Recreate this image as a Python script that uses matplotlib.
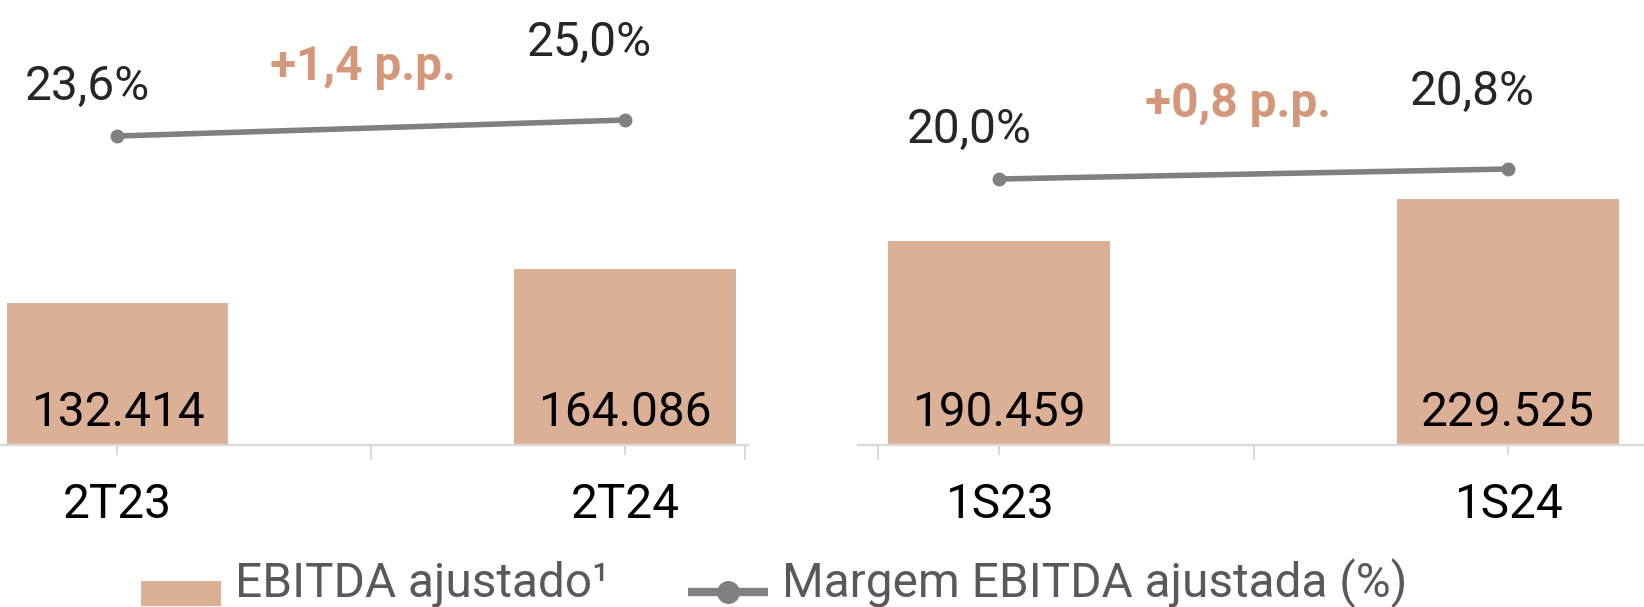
import numpy as np
import matplotlib
matplotlib.use("Agg")
import matplotlib.pyplot as plt
from matplotlib.patches import Rectangle
from matplotlib.lines import Line2D

plt.rcParams['font.family'] = ['Roboto', 'DejaVu Sans']

# ---------------- data ----------------
periods_q = ['2T23', '2T24']
ebitda_q = [132414, 164086]
margin_q = [23.6, 25.0]

periods_s = ['1S23', '1S24']
ebitda_s = [190459, 229525]
margin_s = [20.0, 20.8]

delta_labels = ['+1,4 p.p.', '+0,8 p.p.']
legend_labels = ['EBITDA ajustado¹', 'Margem EBITDA ajustada (%)']

# ---------------- style ----------------
BAR = '#dcb097'
LINE = '#808080'
ACCENT = '#d4977a'
GRID = '#d9d9d9'
FS = 34.4

W, H = 1644, 607
fig = plt.figure(figsize=(W / 100, H / 100), dpi=100)

BASE = 444.5  # axis line, px from top

panels = [
    dict(cats=periods_q, bars=ebitda_q, margin=margin_q, delta=delta_labels[0],
         px=(0, 748), xlim=(-0.2315, 1.2424), minor=[0.5, 1.2365],
         ylim2=(-3.39, 35.50), dpos=(0.485, 0.820)),
    dict(cats=periods_s, bars=ebitda_s, margin=margin_s, delta=delta_labels[1],
         px=(858, 1644), xlim=(-0.277, 1.267), minor=[-0.2377, 0.501],
         ylim2=(-1.24, 34.32), dpos=(0.4835, 0.737)),
]

pct_offsets = [(-21.6, 25.9), (-25.9, 46.4)]

for p in panels:
    x0, x1 = p['px']
    ax = fig.add_axes([x0 / W, 1 - BASE / H, (x1 - x0) / W, BASE / H])
    x = np.arange(len(p['cats']))
    ax.bar(x, p['bars'], width=0.436, color=BAR, zorder=2)
    ax.set_xlim(*p['xlim'])
    ax.set_ylim(0, 415800)
    for s in ['top', 'right', 'left']:
        ax.spines[s].set_visible(False)
    ax.spines['bottom'].set_color(GRID)
    ax.spines['bottom'].set_linewidth(1.7)
    ax.set_yticks([])
    ax.set_xticks(x, p['cats'])
    ax.set_xticks(p['minor'], minor=True)
    ax.tick_params(axis='x', which='major', length=7.2, width=1.4, color=GRID,
                   pad=45.7, labelsize=FS, labelcolor='black')
    ax.tick_params(axis='x', which='minor', length=10.5, width=1.4, color=GRID)
    for lbl in ax.get_xticklabels():
        lbl.set_va('baseline')
    for xi, v in zip(x, p['bars']):
        ax.annotate(f'{v:,}'.replace(',', '.'), xy=(xi, 0), xytext=(0, 13.3),
                    textcoords='offset points', ha='center', va='baseline',
                    fontsize=FS, color='black', zorder=3)

    ax2 = ax.twinx()
    ax2.plot(x, p['margin'], color=LINE, lw=4.0, marker='o', ms=9,
             solid_capstyle='butt', zorder=4)
    ax2.set_ylim(*p['ylim2'])
    ax2.set_axis_off()
    for xi, m, off in zip(x, p['margin'], pct_offsets):
        ax2.annotate(f'{m:.1f}%'.replace('.', ','), xy=(xi, m), xytext=off,
                     textcoords='offset points', ha='center', va='baseline',
                     fontsize=FS, color='#262626')
    ax2.text(p['dpos'][0], p['dpos'][1], p['delta'], transform=ax2.transAxes,
             ha='center', va='baseline', fontsize=FS, fontweight='bold', color=ACCENT)


class PatchHandler:
    def legend_artist(self, legend, orig_handle, fontsize, handlebox):
        xd, yd = handlebox.xdescent, handlebox.ydescent
        w = handlebox.width
        r = Rectangle((-xd, -yd - 0.19 * fontsize), w, 0.525 * fontsize,
                      facecolor=BAR, edgecolor='none')
        handlebox.add_artist(r)
        return r


class LineHandler:
    def legend_artist(self, legend, orig_handle, fontsize, handlebox):
        xd, yd = handlebox.xdescent, handlebox.ydescent
        w = handlebox.width
        y = -yd + 0.094 * fontsize
        ln = Line2D([-xd, -xd + w], [y, y], color=LINE, lw=6.0, solid_capstyle='butt')
        mk = Line2D([-xd + w / 2], [y], marker='o', ms=15.5, color=LINE, ls='none')
        handlebox.add_artist(ln)
        handlebox.add_artist(mk)
        return ln


h_bar = Rectangle((0, 0), 1, 1, color=BAR)
h_line = Line2D([], [], color=LINE, marker='o')
fig.legend(handles=[h_bar, h_line], labels=legend_labels, loc='lower left',
           bbox_to_anchor=(141 / W, -0.001), ncol=2, frameon=False,
           fontsize=FS, labelcolor='#595959', handlelength=1.674,
           handletextpad=0.30, columnspacing=1.64, borderpad=0, borderaxespad=0,
           handler_map={Rectangle: PatchHandler(), Line2D: LineHandler()})

fig.savefig('out.png', dpi=100)
